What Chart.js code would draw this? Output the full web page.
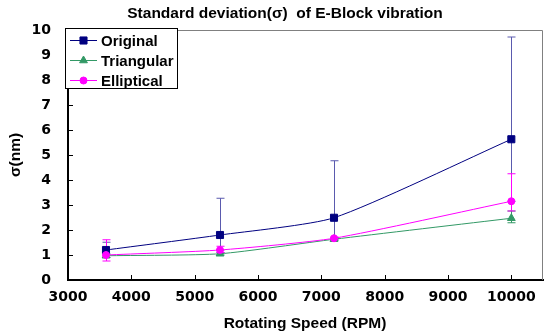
<!DOCTYPE html>
<html>
<head>
<meta charset="utf-8">
<script src="https://cdn.jsdelivr.net/npm/chart.js@4"></script>
<style>
  body { margin: 0; background: #fff; }
  #wrap { width: 549px; height: 336px; }
</style>
</head>
<body>
<div id="wrap"><canvas id="myChart" width="549" height="336"></canvas></div>
<script>
// rpm values along the x axis
const speeds = [3600, 5400, 7200, 10000]
const xTicks = [3000, 4000, 5000, 6000, 7000, 8000, 9000, 10000]
const yTicks = [0, 1, 2, 3, 4, 5, 6, 7, 8, 9, 10]

// sigma (nm) for each block shape
const original = [1.2, 1.8, 2.49, 5.63]
const originalHigh = [1.51, 3.27, 4.77, 9.72]
const originalLow = [1.0, 1.2, 1.67, 3.15]

const triangular = [0.97, 1.05, 1.63, 2.47]
const triangularHigh = [1.04, 1.1, 1.68, 2.76]
const triangularLow = [0.9, 1.0, 1.58, 2.29]

const elliptical = [1.0, 1.2, 1.67, 3.15]
const ellipticalHigh = [1.61, 1.35, 1.72, 4.25]
const ellipticalLow = [0.76, 1.1, 1.62, 2.76]

const TITLE = "Standard deviation(\u03c3)  of E-Block vibration"
const X_TITLE = "Rotating Speed (RPM)"
const Y_TITLE = "\u03c3(nm)"

function pts(vals) {
  return speeds.map(function (s, i) { return { x: s, y: vals[i] } })
}

let series = [
  { label: "Original", data: original, hi: originalHigh, lo: originalLow, color: "#000080", bar: "#5a5aae", style: "rect", r: 5, order: 3 },
  { label: "Triangular", data: triangular, hi: triangularHigh, lo: triangularLow, color: "#339966", bar: "#339966", style: "triangle", r: 4.5, order: 2 },
  { label: "Elliptical", data: elliptical, hi: ellipticalHigh, lo: ellipticalLow, color: "#ff00ff", bar: "#ff00ff", style: "circle", r: 3.5, order: 1 }
]

// error bars, ticks, border, legend and text drawn by hand
const extras = {
  id: "extras",
  beforeDatasetsDraw(chart) {
    const ctx = chart.ctx
    const xs = chart.scales.x, ys = chart.scales.y
    ctx.save()
    series.forEach(function (s) {
      ctx.strokeStyle = s.bar
      ctx.lineWidth = 1
      speeds.forEach(function (v, i) {
        const px = Math.round(xs.getPixelForValue(v)) + 0.5
        const top = ys.getPixelForValue(s.hi[i])
        const bot = ys.getPixelForValue(s.lo[i])
        ctx.beginPath()
        ctx.moveTo(px, top); ctx.lineTo(px, bot)
        ctx.moveTo(px - 4, top); ctx.lineTo(px + 4, top)
        ctx.moveTo(px - 4, bot); ctx.lineTo(px + 4, bot)
        ctx.stroke()
      })
    })
    ctx.restore()
  },
  afterDraw(chart) {
    const ctx = chart.ctx
    const a = chart.chartArea
    const xs = chart.scales.x, ys = chart.scales.y
    ctx.save()
    // gray frame top and right
    ctx.strokeStyle = "#808080"
    ctx.lineWidth = 1
    ctx.beginPath()
    ctx.moveTo(a.left, a.top + 0.5); ctx.lineTo(a.right - 0.5, a.top + 0.5); ctx.lineTo(a.right - 0.5, a.bottom)
    ctx.stroke()
    // inside ticks
    ctx.strokeStyle = "#000"
    ctx.lineWidth = 1
    ctx.beginPath()
    xTicks.forEach(function (v) {
      const px = Math.round(xs.getPixelForValue(v)) + 0.5
      ctx.moveTo(px, a.bottom); ctx.lineTo(px, a.bottom - 5)
    })
    yTicks.forEach(function (v) {
      const py = Math.round(ys.getPixelForValue(v)) + 0.5
      ctx.moveTo(a.left, py); ctx.lineTo(a.left + 5, py)
    })
    ctx.stroke()

    // legend box
    ctx.fillStyle = "#fff"
    ctx.fillRect(66, 29, 112, 60)
    ctx.strokeStyle = "#000"
    ctx.strokeRect(65.5, 28.5, 112, 60)
    ctx.font = "bold 15px 'Liberation Sans'"
    ctx.textBaseline = "middle"
    series.forEach(function (s, i) {
      const y = 40.5 + i * 20
      ctx.strokeStyle = s.color
      ctx.beginPath(); ctx.moveTo(70, y); ctx.lineTo(97, y); ctx.stroke()
      ctx.fillStyle = s.color
      Chart.helpers.drawPoint(ctx, { pointStyle: s.style, radius: s.r, borderWidth: 1 }, 83.5, y)
      ctx.fillStyle = "#000"
      ctx.fillText(s.label, 101, y + 1)
    })

    // titles
    ctx.fillStyle = "#000"
    ctx.textAlign = "center"
    ctx.font = "bold 15.5px 'Liberation Sans'"
    ctx.fillText(TITLE, 285, 14)
    ctx.font = "bold 15.5px 'Liberation Sans'"
    ctx.fillText(X_TITLE, 305, 324)
    ctx.translate(16, 155)
    ctx.rotate(-Math.PI / 2)
    ctx.fillText(Y_TITLE, 0, 0)
    ctx.restore()
  }
}

const ctx = document.getElementById("myChart").getContext("2d")
const chart = new Chart(ctx, {
  type: "line",
  data: {
    datasets: series.map(function (s) {
      return {
        label: s.label,
        data: pts(s.data),
        borderColor: s.color,
        backgroundColor: s.color,
        borderWidth: 1,
        pointStyle: s.style,
        pointRadius: s.r,
        pointBorderWidth: 1,
        tension: 0.2,
        order: s.order
      }
    })
  },
  options: {
    responsive: false,
    animation: false,
    layout: { padding: { left: 0, right: 3, top: 30, bottom: 0 } },
    plugins: { legend: { display: false }, title: { display: false }, tooltip: { enabled: false } },
    scales: {
      x: {
        type: "linear",
        min: 3000,
        max: 10500,
        afterBuildTicks: function (scale) { scale.ticks = xTicks.map(function (v) { return { value: v } }) },
        afterFit: function (scale) { scale.height = 56 },
        grid: { display: false, drawTicks: false },
        border: { display: true, color: "#000", width: 2 },
        ticks: {
          padding: 9, maxRotation: 0, autoSkip: false, color: "#000",
          font: { family: "DejaVu Sans", weight: "bold", size: 14 },
          callback: function (v) { return String(v) }
        }
      },
      y: {
        min: 0,
        max: 10,
        afterBuildTicks: function (scale) { scale.ticks = yTicks.map(function (v) { return { value: v } }) },
        afterFit: function (scale) { scale.width = 68 },
        grid: { display: false, drawTicks: false },
        border: { display: true, color: "#000", width: 2 },
        ticks: { padding: 17, color: "#000", font: { family: "DejaVu Sans", weight: "bold", size: 14 } }
      }
    }
  },
  plugins: [extras]
})
</script>
</body>
</html>
